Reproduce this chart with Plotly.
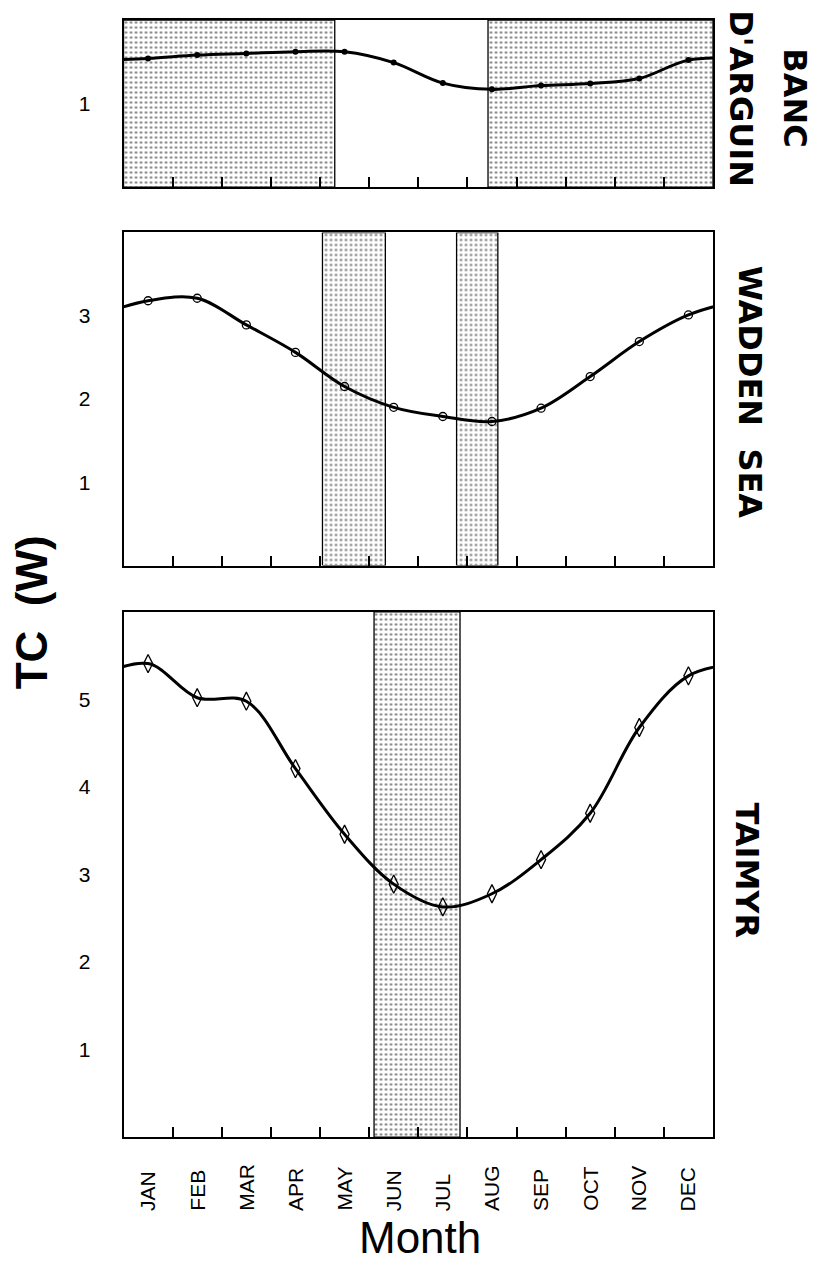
import plotly.graph_objects as go

# Monthly thermostatic costs TC (W) at three sites
months = ["JAN", "FEB", "MAR", "APR", "MAY", "JUN",
          "JUL", "AUG", "SEP", "OCT", "NOV", "DEC"]
banc_tc = [1.54, 1.58, 1.60, 1.62, 1.62, 1.49, 1.245, 1.17, 1.215, 1.24, 1.30, 1.52]
wadden_tc = [3.18, 3.21, 2.89, 2.56, 2.15, 1.90, 1.79, 1.73, 1.89, 2.27, 2.69, 3.01]
taimyr_tc = [5.41, 5.02, 4.98, 4.21, 3.46, 2.89, 2.63, 2.78, 3.17, 3.70, 4.68, 5.27]

# Periods of presence (in months from 1 Jan), drawn stippled
banc_periods = [(0.0, 4.3), (7.42, 12.0)]
wadden_periods = [(4.05, 5.33), (6.78, 7.62)]
taimyr_periods = [(5.1, 6.85)]

site_names = ["BANC", "D'ARGUIN", "WADDEN  SEA", "TAIMYR"]

FONT = "Arial"
month_x = [i + 0.5 for i in range(12)]

panels = [
    # values, periods, y max, y ticks, y domain, marker
    dict(vals=banc_tc, periods=banc_periods, ymax=2, yticks=[1],
         dom=[0.8534, 0.9843],
         marker=dict(symbol="circle", size=6, color="black")),
    dict(vals=wadden_tc, periods=wadden_periods, ymax=4, yticks=[1, 2, 3],
         dom=[0.5568, 0.8178],
         marker=dict(symbol="circle-open", size=8, color="black",
                     line=dict(width=1.3, color="black"))),
    dict(vals=taimyr_tc, periods=taimyr_periods, ymax=6, yticks=[1, 2, 3, 4, 5],
         dom=[0.1089, 0.5204],
         marker=dict(symbol="diamond-tall-open", size=13, color="black",
                     line=dict(width=1.3, color="black"))),
]

fig = go.Figure()
layout = {}
n = len(panels)
for i, p in enumerate(panels, start=1):
    xa = "x" if i == 1 else f"x{i}"
    ya = "y" if i == 1 else f"y{i}"
    # stippled periods
    for a, b in p["periods"]:
        fig.add_trace(go.Scatter(
            x=[a, a, b, b, a], y=[0, p["ymax"], p["ymax"], 0, 0],
            xaxis=xa, yaxis=ya, mode="lines", fill="toself",
            fillcolor="white",
            fillpattern=dict(shape=".", fgcolor="black", bgcolor="white",
                             size=5, solidity=0.2),
            line=dict(color="black", width=1.3),
            hoverinfo="skip", showlegend=False))
    # smooth annual curve, continued across the year boundary
    xs = [month_x[0] - 1] + month_x + [month_x[-1] + 1]
    ys = [p["vals"][-1]] + p["vals"] + [p["vals"][0]]
    fig.add_trace(go.Scatter(
        x=xs, y=ys, xaxis=xa, yaxis=ya, mode="lines",
        line=dict(color="black", width=3, shape="spline", smoothing=1.0),
        hoverinfo="skip", showlegend=False))
    fig.add_trace(go.Scatter(
        x=month_x, y=p["vals"], xaxis=xa, yaxis=ya, mode="markers",
        marker=p["marker"], showlegend=False))

    axis_common = dict(showgrid=False, zeroline=False, showline=True,
                       linecolor="black", linewidth=2, mirror=True,
                       tickcolor="black", tickwidth=1.5)
    layout["xaxis" if i == 1 else f"xaxis{i}"] = dict(
        axis_common, domain=[0.1512, 0.8727], range=[0, 12],
        ticks="inside", tickvals=list(range(1, 12)), ticklen=10,
        showticklabels=False, anchor=ya)
    # labelled axis: invisible outside ticks keep the numbers off the frame
    layout["yaxis" if i == 1 else f"yaxis{i}"] = dict(
        axis_common, domain=p["dom"], range=[0, p["ymax"]],
        tickvals=p["yticks"], ticks="outside", ticklen=27,
        tickcolor="rgba(0,0,0,0)",
        tickfont=dict(family=FONT, size=21, color="black"),
        anchor=xa)
    # overlay axis carrying the inward tick marks
    layout[f"yaxis{n + i}"] = dict(
        showgrid=False, zeroline=False, showline=False,
        overlaying=ya, range=[0, p["ymax"]], tickvals=p["yticks"],
        ticks="inside", ticklen=8, tickcolor="black", tickwidth=1.5,
        showticklabels=False, anchor=xa, side="left")

fig.update_layout(**layout)

annotations = []
# month names along the bottom axis
for m, x in zip(months, month_x):
    annotations.append(dict(
        text=m, x=x, xref="x3", y=0.0494, yref="paper",
        xanchor="center", yanchor="bottom", textangle=-90, showarrow=False,
        font=dict(family=FONT, size=21, color="black")))

label_font = dict(family="DejaVu Sans", size=32, color="black", weight="bold")
site_pos = [(0.973, 0.923), (0.907, 0.923), (0.918, 0.693), (0.914, 0.318)]
for name, (x, y) in zip(site_names, site_pos):
    annotations.append(dict(
        text=name, x=x, y=y, xref="paper", yref="paper",
        xanchor="center", yanchor="middle", textangle=90, showarrow=False,
        font=label_font))

annotations.append(dict(
    text="TC  (W)", x=0.039, y=0.52, xref="paper", yref="paper",
    xanchor="center", yanchor="middle", textangle=-90, showarrow=False,
    font=dict(family=FONT, size=44, color="black", weight="bold")))
annotations.append(dict(
    text="Month", x=0.514, y=0.0298, xref="paper", yref="paper",
    xanchor="center", yanchor="middle", showarrow=False,
    font=dict(family=FONT, size=44, color="black")))

fig.update_layout(
    width=817, height=1276,
    margin=dict(l=0, r=0, t=0, b=0),
    paper_bgcolor="white", plot_bgcolor="white",
    annotations=annotations,
    showlegend=False,
)

fig.write_html("out.html")
